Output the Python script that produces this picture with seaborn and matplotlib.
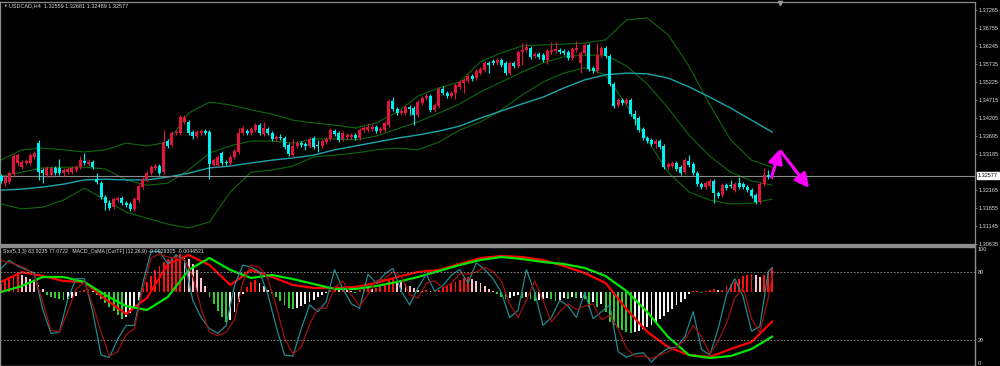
import numpy as np
import pandas as pd
import matplotlib
matplotlib.use('Agg')
import matplotlib.pyplot as plt
import matplotlib.transforms as mtrans
import seaborn as sns

# USDCAD H4 candles, one value per bar
opens = [1.3257, 1.3237, 1.3240, 1.3263, 1.3294, 1.3282, 1.3294, 1.3294, 1.3311, 1.3350,
         1.3274, 1.3260, 1.3260, 1.3280, 1.3280, 1.3265, 1.3268, 1.3268, 1.3274, 1.3282,
         1.3299, 1.3291, 1.3297, 1.3248, 1.3237, 1.3197, 1.3180, 1.3169, 1.3189, 1.3195,
         1.3180, 1.3178, 1.3164, 1.3189, 1.3226, 1.3248, 1.3265, 1.3280, 1.3285, 1.3268,
         1.3356, 1.3345, 1.3379, 1.3379, 1.3410, 1.3410, 1.3381, 1.3370, 1.3379, 1.3384,
         1.3381, 1.3288, 1.3288, 1.3322, 1.3297, 1.3294, 1.3311, 1.3325, 1.3379, 1.3384,
         1.3379, 1.3387, 1.3401, 1.3376, 1.3390, 1.3379, 1.3362, 1.3367, 1.3364, 1.3345,
         1.3316, 1.3342, 1.3350, 1.3347, 1.3342, 1.3364, 1.3345, 1.3342, 1.3353, 1.3362,
         1.3384, 1.3379, 1.3362, 1.3367, 1.3367, 1.3373, 1.3364, 1.3387, 1.3387, 1.3390,
         1.3396, 1.3384, 1.3387, 1.3401, 1.3469, 1.3447, 1.3435, 1.3435, 1.3452, 1.3449,
         1.3430, 1.3464, 1.3478, 1.3483, 1.3444, 1.3455, 1.3503, 1.3492, 1.3483, 1.3492,
         1.3509, 1.3520, 1.3526, 1.3540, 1.3534, 1.3548, 1.3557, 1.3577, 1.3582, 1.3577,
         1.3585, 1.3577, 1.3548, 1.3577, 1.3568, 1.3608, 1.3614, 1.3619, 1.3597, 1.3602,
         1.3599, 1.3585, 1.3608, 1.3611, 1.3614, 1.3611, 1.3608, 1.3591, 1.3614, 1.3577,
         1.3605, 1.3628, 1.3563, 1.3554, 1.3599, 1.3619, 1.3597, 1.3517, 1.3458, 1.3472,
         1.3464, 1.3472, 1.3432, 1.3421, 1.3390, 1.3364, 1.3359, 1.3347, 1.3356, 1.3342,
         1.3282, 1.3285, 1.3294, 1.3282, 1.3268, 1.3299, 1.3291, 1.3265, 1.3234, 1.3226,
         1.3229, 1.3243, 1.3209, 1.3203, 1.3231, 1.3231, 1.3217, 1.3237, 1.3234, 1.3226,
         1.3217, 1.3203, 1.3183, 1.3234, 1.3260, 1.32559]
highs = [1.3263, 1.3260, 1.3271, 1.3319, 1.3322, 1.3302, 1.3305, 1.3322, 1.3328, 1.3359,
         1.3280, 1.3285, 1.3285, 1.3285, 1.3305, 1.3280, 1.3282, 1.3285, 1.3288, 1.3313,
         1.3322, 1.3305, 1.3302, 1.3265, 1.3243, 1.3203, 1.3189, 1.3197, 1.3200, 1.3200,
         1.3186, 1.3183, 1.3197, 1.3234, 1.3254, 1.3271, 1.3288, 1.3291, 1.3291, 1.3387,
         1.3362, 1.3384, 1.3387, 1.3430, 1.3430, 1.3415, 1.3387, 1.3387, 1.3390, 1.3390,
         1.3387, 1.3308, 1.3316, 1.3328, 1.3302, 1.3316, 1.3333, 1.3393, 1.3398, 1.3390,
         1.3396, 1.3407, 1.3407, 1.3410, 1.3396, 1.3384, 1.3373, 1.3376, 1.3370, 1.3350,
         1.3362, 1.3356, 1.3356, 1.3353, 1.3367, 1.3370, 1.3359, 1.3362, 1.3367, 1.3393,
         1.3390, 1.3384, 1.3384, 1.3379, 1.3379, 1.3379, 1.3393, 1.3398, 1.3407, 1.3404,
         1.3401, 1.3396, 1.3413, 1.3475, 1.3480, 1.3452, 1.3447, 1.3458, 1.3458, 1.3455,
         1.3472, 1.3483, 1.3492, 1.3489, 1.3464, 1.3509, 1.3512, 1.3497, 1.3497, 1.3520,
         1.3529, 1.3534, 1.3546, 1.3546, 1.3560, 1.3565, 1.3582, 1.3582, 1.3588, 1.3591,
         1.3591, 1.3582, 1.3582, 1.3582, 1.3614, 1.3633, 1.3633, 1.3625, 1.3608, 1.3608,
         1.3605, 1.3616, 1.3636, 1.3636, 1.3619, 1.3616, 1.3614, 1.3622, 1.3639, 1.3611,
         1.3633, 1.3633, 1.3568, 1.3633, 1.3625, 1.3625, 1.3602, 1.3523, 1.3478, 1.3478,
         1.3478, 1.3478, 1.3444, 1.3427, 1.3396, 1.3370, 1.3364, 1.3362, 1.3362, 1.3347,
         1.3297, 1.3299, 1.3299, 1.3288, 1.3308, 1.3316, 1.3297, 1.3271, 1.3240, 1.3243,
         1.3248, 1.3248, 1.3214, 1.3237, 1.3237, 1.3246, 1.3240, 1.3254, 1.3240, 1.3231,
         1.3223, 1.3209, 1.3240, 1.3280, 1.3274, 1.32681]
lows = [1.3237, 1.3229, 1.3234, 1.3257, 1.3285, 1.3277, 1.3288, 1.3288, 1.3305, 1.3246,
        1.3237, 1.3254, 1.3254, 1.3260, 1.3260, 1.3257, 1.3263, 1.3263, 1.3268, 1.3277,
        1.3288, 1.3285, 1.3277, 1.3234, 1.3192, 1.3161, 1.3161, 1.3164, 1.3183, 1.3175,
        1.3169, 1.3158, 1.3158, 1.3183, 1.3220, 1.3243, 1.3260, 1.3274, 1.3260, 1.3263,
        1.3336, 1.3339, 1.3373, 1.3373, 1.3404, 1.3373, 1.3362, 1.3364, 1.3373, 1.3373,
        1.3248, 1.3282, 1.3282, 1.3288, 1.3288, 1.3288, 1.3305, 1.3319, 1.3373, 1.3373,
        1.3373, 1.3381, 1.3373, 1.3370, 1.3373, 1.3356, 1.3356, 1.3359, 1.3333, 1.3313,
        1.3311, 1.3336, 1.3339, 1.3331, 1.3336, 1.3333, 1.3325, 1.3336, 1.3347, 1.3356,
        1.3370, 1.3353, 1.3356, 1.3362, 1.3362, 1.3359, 1.3359, 1.3381, 1.3381, 1.3384,
        1.3379, 1.3379, 1.3381, 1.3396, 1.3441, 1.3430, 1.3430, 1.3430, 1.3430, 1.3401,
        1.3424, 1.3458, 1.3472, 1.3438, 1.3438, 1.3449, 1.3486, 1.3478, 1.3478, 1.3475,
        1.3503, 1.3492, 1.3520, 1.3526, 1.3529, 1.3543, 1.3551, 1.3548, 1.3571, 1.3571,
        1.3565, 1.3543, 1.3543, 1.3563, 1.3563, 1.3571, 1.3608, 1.3588, 1.3591, 1.3588,
        1.3580, 1.3574, 1.3602, 1.3605, 1.3602, 1.3599, 1.3585, 1.3585, 1.3608, 1.3548,
        1.3599, 1.3554, 1.3548, 1.3548, 1.3594, 1.3591, 1.3512, 1.3449, 1.3452, 1.3458,
        1.3458, 1.3427, 1.3401, 1.3381, 1.3359, 1.3350, 1.3342, 1.3336, 1.3333, 1.3277,
        1.3274, 1.3280, 1.3271, 1.3260, 1.3263, 1.3282, 1.3260, 1.3229, 1.3220, 1.3220,
        1.3223, 1.3180, 1.3195, 1.3197, 1.3217, 1.3223, 1.3212, 1.3220, 1.3220, 1.3212,
        1.3195, 1.3178, 1.3178, 1.3229, 1.3248, 1.32489]
closes = [1.3243, 1.3254, 1.3265, 1.3313, 1.3316, 1.3297, 1.3299, 1.3316, 1.3322, 1.3268,
          1.3265, 1.3280, 1.3280, 1.3265, 1.3265, 1.3274, 1.3277, 1.3280, 1.3282, 1.3302,
          1.3294, 1.3297, 1.3282, 1.3240, 1.3197, 1.3180, 1.3166, 1.3192, 1.3195, 1.3180,
          1.3175, 1.3164, 1.3192, 1.3229, 1.3248, 1.3265, 1.3282, 1.3285, 1.3265, 1.3353,
          1.3342, 1.3379, 1.3381, 1.3424, 1.3424, 1.3379, 1.3370, 1.3381, 1.3384, 1.3379,
          1.3291, 1.3302, 1.3311, 1.3294, 1.3294, 1.3311, 1.3328, 1.3379, 1.3393, 1.3379,
          1.3390, 1.3401, 1.3379, 1.3393, 1.3379, 1.3362, 1.3367, 1.3364, 1.3339, 1.3319,
          1.3342, 1.3350, 1.3345, 1.3342, 1.3362, 1.3339, 1.3342, 1.3356, 1.3362, 1.3387,
          1.3376, 1.3359, 1.3379, 1.3373, 1.3373, 1.3364, 1.3387, 1.3393, 1.3396, 1.3396,
          1.3384, 1.3390, 1.3407, 1.3469, 1.3447, 1.3435, 1.3441, 1.3452, 1.3447, 1.3430,
          1.3466, 1.3478, 1.3483, 1.3444, 1.3458, 1.3503, 1.3492, 1.3483, 1.3492, 1.3514,
          1.3523, 1.3529, 1.3540, 1.3531, 1.3554, 1.3560, 1.3577, 1.3571, 1.3577, 1.3585,
          1.3571, 1.3548, 1.3577, 1.3568, 1.3608, 1.3614, 1.3622, 1.3594, 1.3602, 1.3594,
          1.3585, 1.3611, 1.3614, 1.3616, 1.3608, 1.3605, 1.3591, 1.3616, 1.3619, 1.3605,
          1.3628, 1.3560, 1.3554, 1.3599, 1.3619, 1.3597, 1.3517, 1.3455, 1.3472, 1.3464,
          1.3472, 1.3432, 1.3418, 1.3387, 1.3364, 1.3356, 1.3347, 1.3356, 1.3339, 1.3282,
          1.3291, 1.3294, 1.3277, 1.3265, 1.3302, 1.3288, 1.3265, 1.3234, 1.3226, 1.3237,
          1.3243, 1.3209, 1.3200, 1.3231, 1.3223, 1.3229, 1.3234, 1.3226, 1.3226, 1.3217,
          1.3200, 1.3183, 1.3234, 1.3260, 1.3254, 1.32577]

# Bollinger bands (dark green) and the long MA (cyan), read every 5 bars
band_idx = list(range(0, 186, 5))
bb_upper = [1.3302, 1.3331, 1.3336, 1.3331, 1.3325, 1.3331, 1.3350, 1.3342, 1.3353, 1.3435,
            1.3466, 1.3458, 1.3444, 1.3432, 1.3415, 1.3407, 1.3401, 1.3393, 1.3407, 1.3438,
            1.3483, 1.3506, 1.3523, 1.3580, 1.3605, 1.3625, 1.3628, 1.3630, 1.3633, 1.3642,
            1.3698, 1.3704, 1.3656, 1.3568, 1.3458, 1.3359, 1.3302, 1.3282]
bb_mid = [1.3257, 1.3268, 1.3280, 1.3282, 1.3282, 1.3277, 1.3246, 1.3231, 1.3237, 1.3274,
          1.3322, 1.3342, 1.3356, 1.3356, 1.3350, 1.3362, 1.3362, 1.3359, 1.3370, 1.3390,
          1.3410, 1.3435, 1.3461, 1.3495, 1.3523, 1.3551, 1.3577, 1.3594, 1.3599, 1.3599,
          1.3568, 1.3517, 1.3449, 1.3373, 1.3313, 1.3268, 1.3243, 1.3231]
bb_lower = [1.3178, 1.3164, 1.3169, 1.3189, 1.3223, 1.3189, 1.3155, 1.3138, 1.3121, 1.3110,
            1.3127, 1.3212, 1.3268, 1.3274, 1.3285, 1.3311, 1.3316, 1.3322, 1.3331, 1.3336,
            1.3331, 1.3353, 1.3387, 1.3410, 1.3444, 1.3486, 1.3523, 1.3548, 1.3563, 1.3543,
            1.3458, 1.3359, 1.3268, 1.3212, 1.3189, 1.3178, 1.3180, 1.3192]
ma_long = [1.3217, 1.3220, 1.3226, 1.3234, 1.3246, 1.3248, 1.3246, 1.3246, 1.3254, 1.3265,
           1.3280, 1.3285, 1.3294, 1.3302, 1.3308, 1.3316, 1.3331, 1.3342, 1.3353, 1.3364,
           1.3373, 1.3384, 1.3398, 1.3421, 1.3441, 1.3461, 1.3480, 1.3506, 1.3529, 1.3543,
           1.3548, 1.3546, 1.3534, 1.3509, 1.3480, 1.3449, 1.3415, 1.3381]

# Stochastic (5,3,3), read every 2 bars
sto_idx = list(range(0, 186, 2)) + [185]
sto_main = [83, 90, 85, 82, 79, 47, 26, 27, 56, 74,
            74, 45, 7, 5, 21, 33, 33, 70, 98, 98,
            87, 95, 90, 55, 40, 30, 26, 33, 68, 86,
            84, 80, 60, 32, 7, 6, 30, 51, 45, 54,
            82, 65, 52, 48, 78, 70, 78, 83, 63, 51,
            66, 78, 63, 68, 77, 82, 70, 88, 82, 74,
            62, 40, 46, 82, 62, 33, 40, 55, 50, 40,
            62, 39, 45, 51, 10, 5, 8, 9, 1, 8,
            13, 14, 23, 45, 12, 7, 30, 60, 74, 58,
            28, 32, 80, 83.9235]
sto_signal = [90, 88, 86, 83, 77, 54, 29, 27, 45, 65,
              71, 51, 27, 6, 10, 25, 30, 65, 92, 96,
              93, 92, 91, 76, 48, 27, 24, 27, 38, 71,
              86, 84, 74, 50, 22, 8, 14, 34, 48, 48,
              66, 72, 60, 50, 60, 72, 74, 80, 76, 60,
              57, 70, 72, 66, 70, 78, 78, 80, 84, 80,
              72, 52, 40, 55, 72, 55, 36, 45, 52, 47,
              50, 52, 38, 42, 30, 13, 6, 6, 4, 7,
              10, 14, 20, 33, 23, 8, 19, 35, 57, 66,
              39, 27, 57, 77.0722]

# MACD_OsMA, in units of 0.0001
osma = [8, 11, 14, 17, 19, 17, 15, 13, 10, 7,
        3, -3, -5, -6, -7, -8, -7, -6, -4, 1,
        2, 3, 1, -3, -7, -11, -15, -19, -23, -27,
        -25, -21, -16, -8, 4, 10, 16, 22, 26, 30,
        33, 35, 37, 38, 36, 33, 28, 22, 14, 6,
        -5, -12, -19, -25, -30, -28, -20, -10, -2, 5,
        10, 12, 9, 6, 2, -2, -5, -9, -13, -16,
        -17, -16, -14, -12, -10, -8, -5, -3, -1, 2,
        3, 2, 3, 2, 1, -1, 2, 3, 4, 3,
        4, 6, 8, 12, 13, 11, 10, 8, 6, 4,
        2, 1, 2, 1, 1, 2, 4, 6, 8, 10,
        12, 14, 15, 13, 11, 9, 6, 3, 1, -2,
        -5, -7, -6, -4, -3, -6, -5, -7, -9, -8,
        -7, -6, -7, -9, -8, -6, -7, -5, -6, -6,
        -7, -15, -10, -15, -12, -20, -30, -33, -36, -38,
        -40, -41, -40, -39, -37, -35, -33, -30, -27, -24,
        -20, -17, -13, -10, -7, -2, 1, 1, -1, 1,
        2, 3, 2, 2, 6, 8, 10, 13, 16, 17,
        18, 17, 15, 17, 20, 24]
macd_main = [10, 20, 16, 11, 10, -7, -22, -6, 28, 37,
             27, 7, 22, 15, 7, 4, 4, 5, 9, 15,
             20, 22, 28, 34, 36, 35, 32, 26, 19, 9,
             -17, -40, -55, -63, -65, -57, -50, -29.305]
macd_signal = [0, 6, 15, 15, 10, -3, -14, -18, -5, 22,
               34, 22, 14, 17, 13, 8, 3, 3, 6, 10,
               15, 21, 27, 32, 35, 33, 30, 28, 24, 16,
               1, -20, -45, -63, -66, -64, -57, -44.521]

price_ticks = [1.37265, 1.36755, 1.36245, 1.35735, 1.35225, 1.34715, 1.34205,
               1.33695, 1.33185, 1.32675, 1.32165, 1.31655, 1.31145, 1.30635]
sto_ticks = [0, 20, 80, 100]
last_price = 1.32577
# magenta forecast arrows: (bar, price) start -> end
arrows = [((184.8, 1.3254), (186.8, 1.3333)), ((187.0, 1.3327), (193.8, 1.3223))]

BG = 'black'
FRAME = '#8c8c8c'
TXT = '#dcdcdc'
UP = '#e0163c'
DOWN = '#00f0f0'
BAND = '#0d6a0d'
FS = 4.0

sns.set_theme(style='dark', rc={'axes.facecolor': BG, 'figure.facecolor': BG})
plt.rcParams['font.family'] = ['Liberation Sans', 'DejaVu Sans']

fig = plt.figure(figsize=(10, 3.66), dpi=100)
ax = fig.add_axes([0, 1 - 245 / 366, 0.975, 243 / 366])
axi = fig.add_axes([0, 0, 0.975, 119 / 366])
axm = axi.twinx()

# ---- main price window ----
for vals, col, lw in ((bb_upper, BAND, 0.8), (bb_mid, BAND, 0.8), (bb_lower, BAND, 0.8), (ma_long, '#1aa6ad', 1.0)):
    sns.lineplot(x=band_idx, y=vals, ax=ax, color=col, lw=lw, legend=False, sort=False)

df = pd.DataFrame({'o': opens, 'h': highs, 'l': lows, 'c': closes})
df['x'] = np.arange(len(df))
cols = np.where(df['c'] >= df['o'], UP, DOWN)
ax.vlines(df['x'], df['l'], df['h'], colors=cols, lw=0.8, zorder=3)
ax.bar(df['x'], (df['c'] - df['o']).abs(), bottom=df[['o', 'c']].min(axis=1),
       width=0.72, color=cols, linewidth=0, zorder=4)

ax.axhline(last_price, color='#8a8a8a', lw=0.8, zorder=2)
for (x0, y0), (x1, y1) in arrows:
    ax.annotate('', xy=(x1, y1), xytext=(x0, y0), zorder=6,
                arrowprops=dict(arrowstyle='-|>,head_length=0.7,head_width=0.35',
                                color='#ff00ff', lw=2.2, shrinkA=0, shrinkB=0))
ax.plot(len(df) + 0.8, 1.3747, marker='v', color='#9a9a9a', ms=3, clip_on=False, zorder=7)

ax.set_xlim(-0.24, 233.6)
ax.set_ylim(1.3062, 1.3749)
ax.yaxis.tick_right()
ax.set_yticks(price_ticks)
# the 1.32675 label sits under the current-price box
ax.set_yticklabels(['' if abs(t - 1.32675) < 1e-6 else f'{t:.5f}' for t in price_ticks])
ax.tick_params(axis='y', direction='out', length=1.5, width=0.6, colors=FRAME,
               labelcolor=TXT, labelsize=FS, pad=0.8)
ax.set_xticks([])
ax.set_xlabel('')
ax.set_ylabel('')
ax.grid(False)
for s in ax.spines.values():
    s.set_color(FRAME)
    s.set_linewidth(0.9)
ax.spines['bottom'].set_linewidth(1.6)

blend = mtrans.blended_transform_factory(ax.transAxes, ax.transData)
ax.text(1.003, last_price, f'{last_price:.5f}', transform=blend, fontsize=FS, color='black',
        va='center', ha='left', zorder=8,
        bbox=dict(boxstyle='square,pad=0.2', fc='white', ec='white'))

# ---- indicator window ----
osma_arr = np.array(osma, dtype=float)
prev = np.r_[osma_arr[0], osma_arr[:-1]]
bar_cols = np.where(osma_arr >= 0,
                    np.where(osma_arr >= prev, '#ff1010', '#ffc0cb'),
                    np.where(osma_arr < prev, '#32cd32', '#f4f4f4'))
axm.bar(np.arange(len(osma_arr)), osma_arr, width=0.45, color=bar_cols, linewidth=0, zorder=1)
sns.lineplot(x=band_idx, y=macd_main, ax=axm, color='#ff0000', lw=1.6, legend=False, sort=False)
sns.lineplot(x=band_idx, y=macd_signal, ax=axm, color='#00e600', lw=1.6, legend=False, sort=False)
axm.set_ylim(-74, 45)
axm.set_yticks([])
axm.set_ylabel('')
axm.grid(False)

axi.set_zorder(axm.get_zorder() + 1)
axi.patch.set_visible(False)
axm.patch.set_facecolor(BG)
sns.lineplot(x=sto_idx, y=sto_main, ax=axi, color='#1f8a8f', lw=0.9, legend=False, sort=False)
sns.lineplot(x=sto_idx, y=sto_signal, ax=axi, color='#a01010', lw=0.9, legend=False, sort=False)
for lvl in (20, 80):
    axi.axhline(lvl, color='#9a9a9a', lw=0.6, ls=(0, (2, 2)))
axi.set_xlim(-0.24, 233.6)
axm.set_xlim(-0.24, 233.6)
axi.set_ylim(-2.6, 101.8)
axi.yaxis.tick_right()
axi.set_yticks(sto_ticks)
axi.set_yticklabels([str(t) for t in sto_ticks])
axi.tick_params(axis='y', length=0, labelcolor=TXT, labelsize=FS, pad=2)
axi.set_xticks([])
axi.set_ylabel('')
axi.grid(False)
for a in (axi, axm):
    for s in a.spines.values():
        s.set_color(FRAME)
        s.set_linewidth(0.9)
    a.spines['top'].set_linewidth(1.6)

# ---- header texts ----
fig.text(0.003, 1 - 6 / 366, '\u25bc', fontsize=2.6, color=TXT, va='center')
fig.text(0.009, 1 - 6 / 366, 'USDCAD,H4  1.32559 1.32681 1.32489 1.32577',
         fontsize=FS, color=TXT, va='center')
fig.text(0.003, 1 - 252 / 366,
         'Sto(5,3,3) 83.9235 77.0722   MACD_OsMA [CurTF] (12,26,9) -0.0029305 -0.0044521',
         fontsize=3.8, color=TXT, va='center')

fig.savefig('out.png', dpi=100, facecolor=BG)
